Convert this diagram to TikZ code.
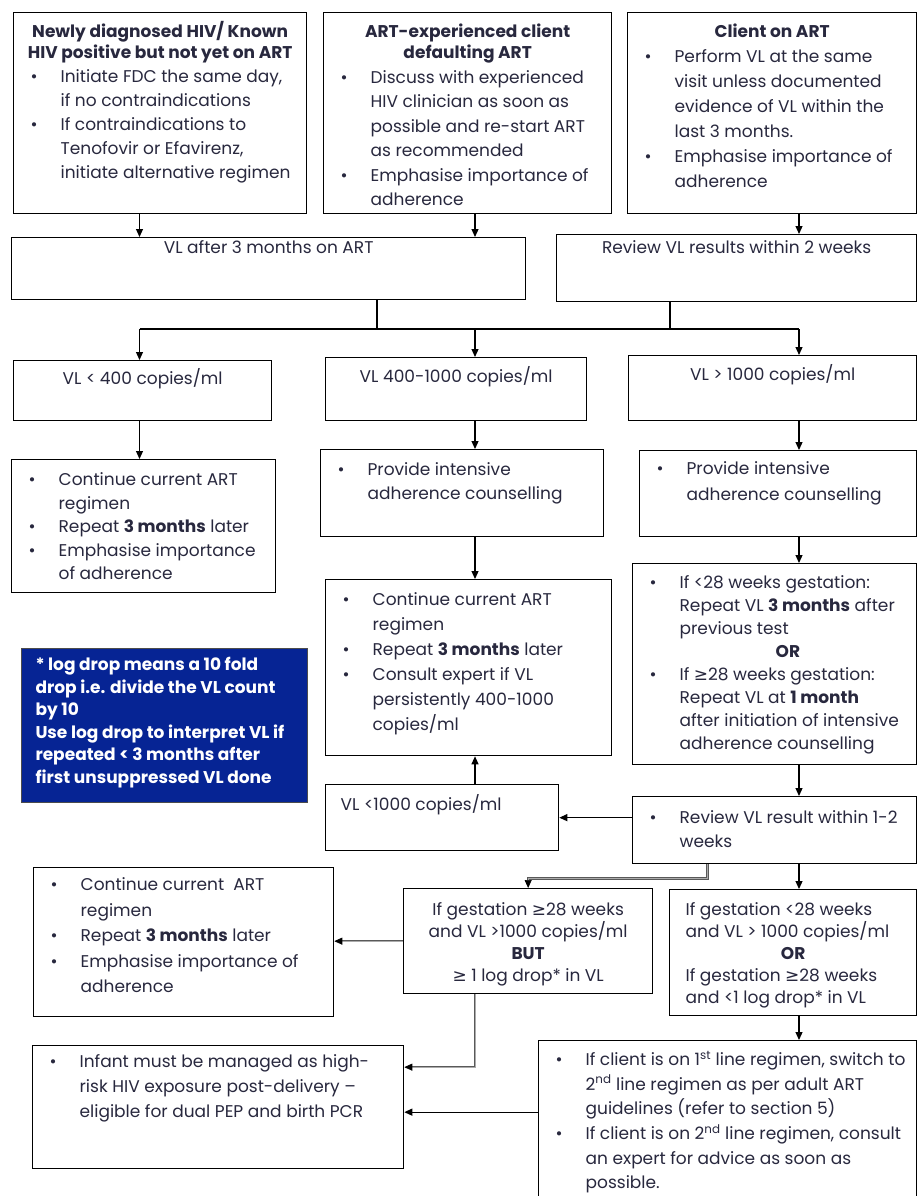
\documentclass[tikz,border=0pt]{standalone}
\usepackage{fontspec}
\setmainfont{Poppins}
\newfontfamily\symfont{DejaVu Sans}
\usetikzlibrary{arrows.meta}
\definecolor{txt}{RGB}{40,40,62}
\definecolor{navy}{RGB}{6,36,148}
\definecolor{greyline}{RGB}{135,135,135}
% box contents: width, height, line spacing, text
\newcommand{\cell}[4]{\parbox[c][#2pt][t]{#1pt}{\fontsize{17}{#3pt}\selectfont\raggedright #4}}
\newcommand{\itm}{\par\hangindent=47pt\hangafter=1\noindent\makebox[47pt][l]{\hspace{17pt}\textbullet}\ignorespaces}
\newcommand{\lead}[1]{\rule{0pt}{#1pt}}
\newcommand{\gesym}{{\symfont ≥}}

\begin{document}
\begin{tikzpicture}[x=1pt,y=-1pt,
    blk/.style={draw, line width=1.3pt, inner sep=0pt, anchor=north west, text=txt},
    arr/.style={-{Triangle[length=8pt,width=7pt]}, line width=1.2pt},
    garr/.style={-{Triangle[length=8pt,width=7pt,color=black]}, draw=black!65, double=greyline!70, double distance=1pt, line width=0.7pt}]
\clip (0,0) rectangle (919,1196);
\fill[white] (0,0) rectangle (919,1196);

% top row
\node[blk] (newdx) at (13,12) {\cell{293}{201}{24}{{\centering\bfseries\fontsize{17}{21pt}\selectfont\lead{25}Newly diagnosed HIV/ Known\\HIV positive but not yet on ART\par}
    \itm Initiate FDC the same day,\newline if no contraindications
    \itm If contraindications to\newline Tenofovir or Efavirenz,\newline initiate alternative regimen}};
\node[blk] (defaulter) at (323,12) {\cell{288}{201}{24.5}{{\centering\bfseries\fontsize{17}{21pt}\selectfont\lead{25}ART-experienced client\\defaulting ART\par}
    \itm Discuss with experienced\newline HIV clinician as soon as\newline possible and re-start ART\newline as recommended
    \itm Emphasise importance of\newline adherence}};
\node[blk] (onart) at (627,12) {\cell{289}{201}{25}{{\centering\bfseries\lead{25}Client on ART\par}
    \itm Perform VL at the same\newline visit unless documented\newline evidence of VL within the\newline last 3 months.
    \itm Emphasise importance of\newline adherence}};

% second row
\node[blk] (vlafter) at (11,237) {\cell{514}{62}{24}{\centering\lead{16}VL after 3 months on ART}};
\node[blk] (review) at (556,234) {\cell{360}{67}{24}{\centering\lead{19}Review VL results within 2 weeks}};

% viral load results
\node[blk] (lowvl) at (13,360) {\cell{258}{60}{24}{\centering\lead{24}VL < 400 copies/ml}};
\node[blk] (midvl) at (325,357) {\cell{261}{63}{24}{\centering\lead{25}VL 400-1000 copies/ml}};
\node[blk] (highvl) at (628,355) {\cell{288}{65}{24}{\centering\lead{25}VL > 1000 copies/ml}};

\node[blk] (lowplan) at (11,459) {\cell{264}{133}{23.5}{\itm\lead{26}Continue current ART\newline regimen
    \itm Repeat \textbf{3 months} later
    \itm Emphasise importance\newline of adherence}};
\node[blk] (midiac) at (320,449) {\cell{283}{87}{24}{\itm\lead{26}Provide intensive\newline adherence counselling}};
\node[blk] (highiac) at (639,450) {\cell{277}{86}{26}{\itm\lead{24}Provide intensive\newline adherence counselling}};
\node[blk] (midplan) at (325,579) {\cell{286}{176}{25}{\itm\lead{26}Continue current ART\newline regimen
    \itm Repeat \textbf{3 months} later
    \itm Consult expert if VL\newline persistently 400-1000\newline copies/ml}};
\node[blk] (repeatvl) at (632,563) {\cell{284}{201}{23}{\itm\lead{25}If <28 weeks gestation:\newline Repeat VL \textbf{3 months} after\newline previous test
    \par\noindent\hspace*{143pt}\textbf{OR}
    \itm If \gesym28 weeks gestation:\newline Repeat VL at \textbf{1 month}\newline after initiation of intensive\newline adherence counselling}};

% footnote on log drop
\node[blk, fill=navy, draw=black!70, line width=1pt, text=white] (logdrop) at (21,648) {\cell{286}{154}{22.5}{\leftskip=14pt\bfseries\lead{22}* log drop means a 10 fold\\drop i.e. divide the VL count\\by 10\\Use log drop to interpret VL if\\repeated < 3 months after\\first unsuppressed VL done}};

\node[blk] (below) at (325,784) {\cell{233}{66}{24}{\leftskip=15pt\lead{26}VL <1000 copies/ml}};
\node[blk] (review2) at (632,796) {\cell{284}{67}{24}{\itm\lead{27}Review VL result within 1-2\newline weeks}};

% lower rows
\node[blk] (keepart) at (33,867) {\cell{300}{149}{25.5}{\itm\lead{23}Continue current~ ART\newline regimen
    \itm Repeat \textbf{3 months} later
    \itm Emphasise importance of\newline adherence}};
\node[blk] (logok) at (403,888) {\cell{249}{105}{22}{\centering\lead{27}If gestation \gesym28 weeks\\and VL >1000 copies/ml\\\textbf{BUT}\\\gesym\ 1 log drop* in VL}};
\node[blk] (nodrop) at (669,889) {\cell{247}{126}{22}{\leftskip=16pt\lead{26}If gestation <28 weeks\\and VL > 1000 copies/ml\par
    {\centering\textbf{OR}\par}
    If gestation \gesym28 weeks\\and <1 log drop* in VL}};
\node[blk] (infant) at (32,1045) {\cell{371}{123}{25}{\itm\lead{22}Infant must be managed as high-\newline risk HIV exposure post-delivery --\newline eligible for dual PEP and birth PCR}};
\node[blk] (switch) at (538,1040) {\cell{378}{180}{24.6}{\itm\lead{25}If client is on 1\textsuperscript{st} line regimen, switch to\newline 2\textsuperscript{nd} line regimen as per adult ART\newline guidelines (refer to section 5)
    \itm If client is on 2\textsuperscript{nd} line regimen, consult\newline an expert for advice as soon as\newline possible.}};

% connector columns
\coordinate (c1) at (139.5,0);
\coordinate (c2) at (475,0);
\coordinate (c3) at (799,0);
\coordinate (joinL) at (377,0);
\coordinate (joinR) at (670,0);
\coordinate (bus) at (0,329);

\draw[arr] (newdx.south -| c1) -- (vlafter.north -| c1);
\draw[arr] (defaulter.south -| c2) -- (vlafter.north -| c2);
\draw[arr] (onart.south -| c3) -- (review.north -| c3);
\draw[line width=1.2pt] (vlafter.south -| joinL) -- (bus -| joinL);
\draw[line width=1.2pt] (review.south -| joinR) -- (bus -| joinR);
\draw[line width=1.2pt] (bus -| c1) -- (bus -| c3);
\draw[arr] (bus -| c1) -- (lowvl.north -| c1);
\draw[arr] (bus -| c2) -- (midvl.north -| c2);
\draw[arr] (bus -| c3) -- (highvl.north -| c3);

\draw[arr] (lowvl.south -| c1) -- (lowplan.north -| c1);
\draw[arr] (midvl.south -| c2) -- (midiac.north -| c2);
\draw[arr] (highvl.south -| c3) -- (highiac.north -| c3);
\draw[arr] (midiac.south -| c2) -- (midplan.north -| c2);
\draw[arr] (highiac.south -| c3) -- (repeatvl.north -| c3);
\draw[arr] (repeatvl.south -| c3) -- (review2.north -| c3);
\draw[arr] (below.north -| c2) -- (midplan.south -| c2);
\draw[arr] (review2.west |- below.east) -- (below.east);
\draw[garr] ([xshift=-67pt]review2.south) -- ++(0,14) -| (logok.north);
\draw[arr] (review2.south -| c3) -- (nodrop.north -| c3);
\draw[garr] (logok.west) -- (keepart.east |- logok.west);
\draw[garr] (logok.south -| c2) |- ([yshift=40pt]infant.east);
\draw[arr] (nodrop.south -| c3) -- (switch.north -| c3);
\draw[arr] ([yshift=-5pt]infant.east -| switch.west) -- ([yshift=-5pt]infant.east);
\end{tikzpicture}
\end{document}
